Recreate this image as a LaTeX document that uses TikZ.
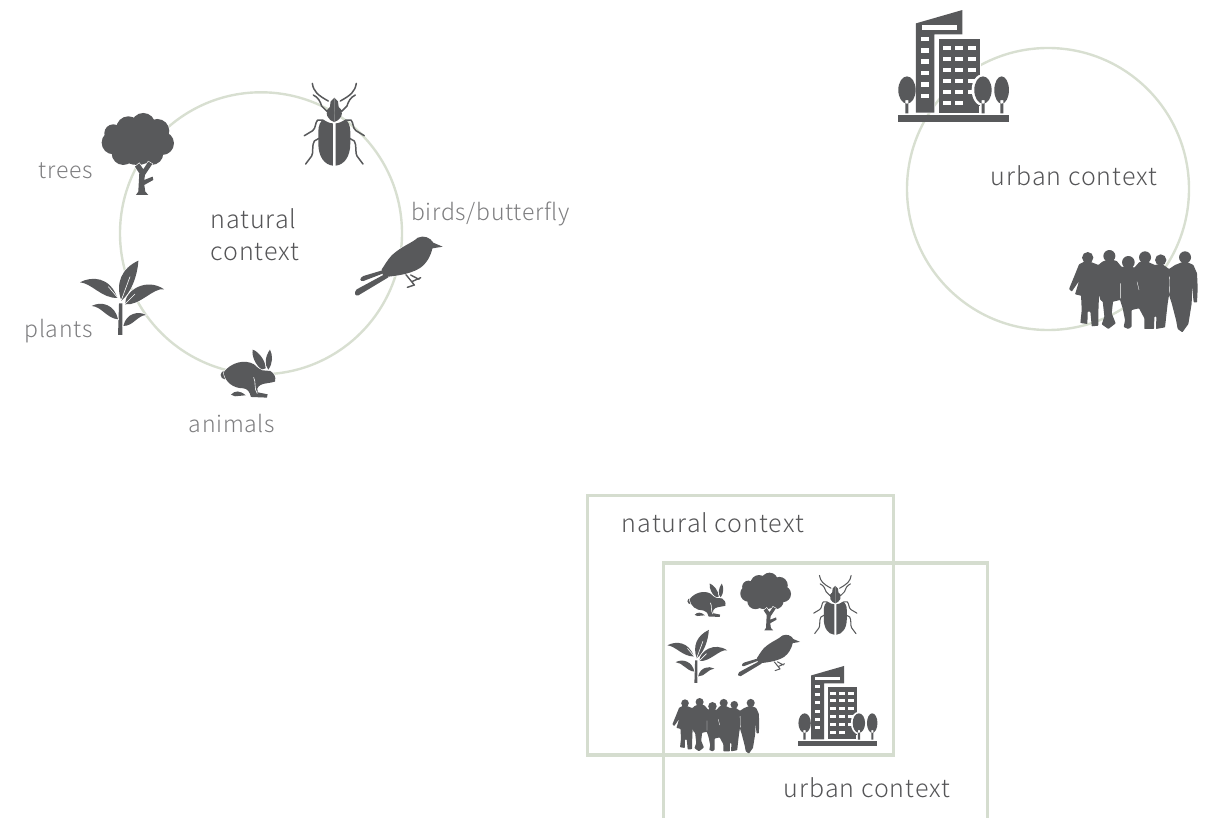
\documentclass[tikz,border=0pt]{standalone}
\usepackage{fontspec}
\newfontfamily\lbl[LetterSpace=3,Ligatures=NoCommon]{Noto Sans CJK JP Light}
\newfontfamily\lbd[LetterSpace=4,Ligatures=NoCommon]{Noto Sans CJK JP Light}
\definecolor{iconc}{HTML}{58595B}
\definecolor{ringc}{HTML}{D8DFD1}
\definecolor{boxc}{HTML}{D5DDCF}
\definecolor{darktxt}{HTML}{555557}
\definecolor{lighttxt}{HTML}{7E7E80}
\newcommand{\beetlehalf}{%
  \fill[iconc] (-4,-10) -- (-4,117) .. controls (-30,114) and (-48,90) .. (-48,50) -- (-48,15) .. controls (-48,-5) and (-41,-15) .. (-34,-22) .. controls (-22,-14) and (-12,-10) .. cycle;
  \fill[iconc] (0,-87) -- (-11,-76) -- (-13,-60) .. controls (-19,-52) and (-26,-42) .. (-21,-32) .. controls (-15,-22) and (-8,-15) .. (0,-14) -- cycle;
  \draw[iconc,line cap=round,line join=round] (-66,-130) .. controls (-62,-105) and (-50,-95) .. (-18,-77);
  \draw[iconc,line cap=round,line join=round] (-63,-95) .. controls (-48,-88) and (-42,-75) .. (-38,-62) -- (-22,-46) -- (-14,-55);
  \draw[iconc,line cap=round,line join=round] (-36,-20) -- (-50,-20) .. controls (-58,-12) and (-55,5) .. (-65,12) -- (-90,27);
  \draw[iconc,line cap=round,line join=round] (-46,35) -- (-60,43) .. controls (-68,55) and (-62,80) .. (-68,88) -- (-86,112);
}
\tikzset{
  ringline/.style={draw=ringc,line width=2.4pt},
  boxline/.style={draw=boxc,line width=3.5pt},
  halo/.style={preaction={draw=white,line width=1.2pt}},
  darklabel/.style={font=\lbd\fontsize{25}{32}\selectfont,text=darktxt,inner sep=0pt},
  lightlabel/.style={font=\lbl\fontsize{23}{30}\selectfont,text=lighttxt,inner sep=0pt},
  treeicon/.pic={
    \begin{scope}[shift={(-172,-250)}]
      \fill[iconc,halo] (190,165) circle (36) (145,175) circle (36) (232,183) circle (36) (100,190) circle (27)
        (100,218) circle (35) (247,220) circle (35) (130,250) circle (35) (215,250) circle (35) (172,215) circle (70);
      \fill[iconc,halo] (168,375) -- (175,365) -- (178,310) -- (165,290) -- (178,280) -- (190,298) -- (205,275) -- (217,282) -- (195,315) -- (193,330) -- (218,320) -- (220,330) -- (193,345) -- (196,365) -- (205,375) -- cycle;
    \end{scope}
  },
  beetleicon/.pic={
    \beetlehalf
    \begin{scope}[xscale=-1]\beetlehalf\end{scope}
  },
  birdicon/.pic={
    \begin{scope}[shift={(-146,-110)}]
      \draw[iconc,line cap=round,line join=round] (158,122) -- (185,155) -- (212,143) (182,135) -- (207,148) (185,155) -- (193,165) -- (172,172);
      \fill[iconc,halo] (278,50) -- (250,38) .. controls (240,22) and (222,15) .. (203,23) .. controls (188,38) and (155,48) .. (125,76) .. controls (112,90) and (104,105) .. (95,118) -- (100,142) .. controls (125,138) and (175,136) .. (210,114) .. controls (230,100) and (242,78) .. (247,55) -- cycle;
      \fill[iconc] (100,120) -- (40,138) .. controls (28,143) and (28,156) .. (40,153) -- (100,130) -- cycle;
      \fill[iconc] (105,132) -- (20,178) .. controls (10,188) and (15,200) .. (25,196) -- (115,142) -- cycle;
    \end{scope}
  },
  rabbiticon/.pic={
    \begin{scope}[shift={(-100,-85)}]
      \fill[iconc,halo] (113,14) .. controls (128,18) and (152,45) .. (152,70) -- (140,74) .. controls (122,60) and (110,35) .. (113,14) -- cycle;
      \fill[iconc,halo] (165,14) .. controls (174,30) and (174,55) .. (160,74) .. controls (148,60) and (150,35) .. (165,14) -- cycle;
      \fill[iconc] (30,90) circle (13);
      \fill[iconc,halo] (26,82) .. controls (48,52) and (90,42) .. (117,58) .. controls (127,66) and (132,74) .. (142,76) -- (166,78) .. controls (177,85) and (184,95) .. (180,110) .. controls (165,115) and (147,114) .. (137,120) .. controls (127,125) and (124,135) .. (128,142) -- (158,148) -- (156,158) -- (108,156) .. controls (104,140) and (98,132) .. (85,130) .. controls (55,130) and (30,112) .. cycle;
      \fill[iconc] (48,149) .. controls (60,136) and (75,136) .. (92,151) -- (60,154) -- cycle;
      \draw[white,line width=.6pt] (116,97) .. controls (124,112) and (116,130) .. (127,146);
    \end{scope}
  },
  planticon/.pic={
    \begin{scope}[shift={(-125,-685)}]
      \fill[iconc,halo] (114,795) -- (117,700) -- (127,700) -- (127,795) -- cycle;
      \fill[iconc,halo] (175,572) .. controls (172,620) and (152,670) .. (124,692) .. controls (105,640) and (125,595) .. (175,572) -- cycle;
      \fill[iconc,halo] (252,658) .. controls (220,652) and (180,708) .. (135,703) .. controls (135,660) and (200,622) .. (252,658) -- cycle;
      \fill[iconc,halo] (0,637) .. controls (35,618) and (90,620) .. (112,684) .. controls (65,685) and (35,640) .. (0,637) -- cycle;
      \fill[iconc,halo] (35,708) .. controls (65,692) and (105,705) .. (114,748) .. controls (80,745) and (65,710) .. (35,708) -- cycle;
      \fill[iconc,halo] (198,735) .. controls (175,722) and (138,730) .. (130,768) .. controls (160,768) and (170,738) .. (198,735) -- cycle;
      \draw[white,line width=.6pt] (112,682) -- (85,650) (135,702) -- (165,672) (124,690) -- (150,620);
    \end{scope}
  },
  buildingicon/.pic={
    \begin{scope}[shift={(-220,-197)}]
      \fill[iconc,halo] (108,70) -- (247,30) -- (247,103) -- (163,103) -- (163,338) -- (108,338) -- cycle;
      \fill[iconc,halo] (178,118) -- (301,118) -- (301,338) -- (178,338) -- cycle;
      \fill[white] (125,75) rectangle (230,90);
      \foreach \wy in {110,145,178,213,247,281} {\fill[white] (124,\wy) rectangle (146,\wy+13);}
      \foreach \wy in {138,170,203,237,270,303} {
        \fill[white] (189,\wy) rectangle (213,\wy+13);
        \fill[white] (226,\wy) rectangle (250,\wy+13);
      }
      \foreach \wy in {138,170,203,237,270} {\fill[white] (263,\wy) rectangle (289,\wy+13);}
      \fill[white] (296,318) rectangle (305,342);
      \fill[iconc,halo] (55,346) rectangle (386,365);
      \fill[white] (309,270) ellipse (34 and 48);
      \fill[iconc] (81,270) ellipse (26 and 41) (76,300) rectangle (85,340);
      \fill[iconc] (309,270) ellipse (26 and 41) (305,300) rectangle (314,340);
      \fill[iconc] (365,270) ellipse (22 and 41) (361,300) rectangle (370,340);
    \end{scope}
  },
  peopleicon/.pic={
    \begin{scope}[shift={(-200,-135)}]
      \fill[iconc] (68,38) circle (17) (133,33) circle (18) (190,52) circle (19) (240,37) circle (18) (287,45) circle (17) (360,37) circle (18);
      \fill[iconc,rounded corners=.6pt] (12,132) -- (30,88) -- (42,58) -- (62,48) -- (80,52) -- (100,60) -- (112,50) -- (133,42) -- (155,48) -- (170,66) -- (190,62) -- (208,68) -- (222,52) -- (240,46) -- (258,55) -- (270,60) -- (290,56) -- (312,72) -- (330,60) -- (360,48) -- (385,60) -- (396,85) -- (398,130) -- (396,172) -- (386,172) -- (381,125) -- (380,175) -- (372,225) -- (370,237) -- (352,262) -- (338,252) -- (333,225) -- (320,175) -- (312,150) -- (308,175) -- (304,210) -- (300,247) -- (273,252) -- (274,215) -- (268,215) -- (267,252) -- (238,252) -- (238,220) -- (222,190) -- (200,195) -- (200,245) -- (190,252) -- (176,246) -- (180,225) -- (173,190) -- (165,165) -- (144,170) -- (140,205) -- (152,235) -- (130,252) -- (110,238) -- (118,215) -- (113,170) -- (106,165) -- (102,150) -- (100,200) -- (100,242) -- (80,244) -- (76,200) -- (68,200) -- (67,237) -- (46,234) -- (50,195) -- (48,152) -- (30,148) -- (42,108) -- (20,140) -- cycle;
      \draw[white,line width=.35pt] (166,115) -- (166,160) (216,110) -- (222,135) (313,95) -- (314,145);
    \end{scope}
  },
}
\begin{document}
\begin{tikzpicture}[x=1pt,y=-1pt]
  \useasboundingbox (0,0) rectangle (1208,818);
  % rings
  \path[ringline] (261,233.3) circle (141);
  \path[ringline] (1048,189) circle (141);
  % boxes
  \coordinate (ublcorner) at (663.3,818);
  \coordinate (ubrcorner) at (987.7,818);
  \path[boxline] (ublcorner) -- (663.3,563) -- (987.7,563) -- (ubrcorner);
  \path[boxline] (587.3,495.7) rectangle (893.3,755);
  % large icons
  \pic at (137.3,153.3) [scale=.3333] {treeicon};
  \pic at (334.3,126.7) [scale=.3333,line width=1.5pt] {beetleicon};
  \pic at (398.7,266.7) [scale=.3333,line width=1.4pt] {birdicon};
  \pic at (248.3,373.3) [scale=.3333] {rabbiticon};
  \pic at (121.7,298.3) [scale=.3333] {planticon};
  \pic at (953.3,65.7) [scale=.3333] {buildingicon};
  \pic at (1131.7,290) [scale=.3333] {peopleicon};
  % small icons
  \pic at (765.3,601) [scale=.234] {treeicon};
  \pic at (835.3,606.7) [scale=.24,line width=1.05pt] {beetleicon};
  \pic at (769,656) [scale=.235,line width=1pt] {birdicon};
  \pic at (706.7,600) [scale=.232] {rabbiticon};
  \pic at (697,656.7) [scale=.237] {planticon};
  \pic at (837.7,705.7) [scale=.238] {buildingicon};
  \pic at (714.7,725) [scale=.225] {peopleicon};
  % labels
  \node[lightlabel] (ltrees) at (66,170.5) {trees};
  \node[lightlabel] (lbirds) at (490.5,214) {birds/butterfly};
  \node[lightlabel] (lplants) at (58.5,331.5) {plants};
  \node[lightlabel] (lanimals) at (232,423.5) {animals};
  \node[darklabel,anchor=base west] (ln1) at (210,228.5) {natural};
  \node[darklabel,anchor=base west] (ln2) at (210,260.5) {context};
  \node[darklabel] (lurban) at (1074,176) {urban context};
  \node[darklabel] (lbn) at (713,523) {natural context};
  \node[darklabel] (lbu) at (867,788) {urban context};
\end{tikzpicture}
\end{document}
